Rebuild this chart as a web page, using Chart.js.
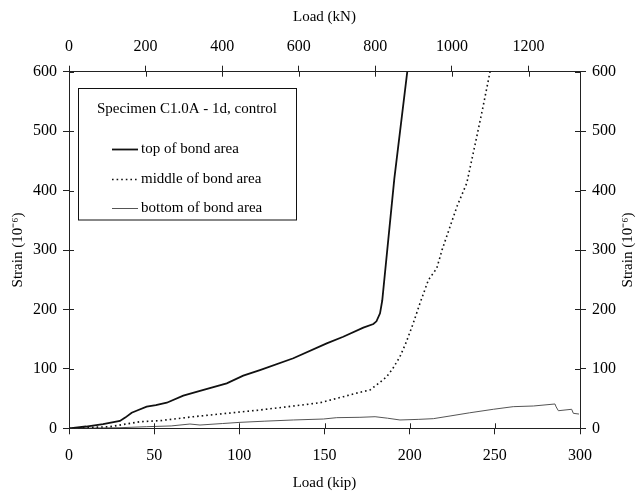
<!DOCTYPE html>
<html>
<head>
<meta charset="utf-8">
<script src="https://cdn.jsdelivr.net/npm/chart.js@4/dist/chart.umd.min.js"></script>
<style>
  html, body { margin: 0; padding: 0; background: #ffffff; }
  #wrap { width: 642px; height: 495px; }
</style>
</head>
<body>
<div id="wrap"><canvas id="c" width="642" height="495"></canvas></div>
<script>
// ---- data ----
const legendTitle = 'Specimen C1.0A - 1d, control';
const seriesNames = ['top of bond area', 'middle of bond area', 'bottom of bond area'];

const loadTop   = [0, 10, 20, 29.9, 33, 36.8, 40, 45.6, 51, 57.4, 67.1, 76.9, 92.6, 102.3, 112.1, 131.7, 151.3, 161, 172.8, 178.7, 180.5, 182.6, 183.9, 191, 198.6];
const strainTop = [0, 3, 7, 12.3, 18, 26.2, 30, 36.3, 39, 43, 54.9, 62.8, 75.7, 88.5, 98, 117.8, 143, 154, 169.3, 175.5, 180, 193.5, 215, 420, 600];

const loadMid   = [0, 12, 24.1, 33, 41.7, 53.4, 73, 92.6, 112.1, 131.7, 147.4, 161, 170, 176.7, 182, 186.5, 190, 194.3, 198, 202.1, 206, 211, 215.9, 219, 223.7, 228, 233.5, 239.4, 243, 247.2];
const strainMid = [0, 1.5, 2.7, 7, 11.1, 12.8, 19.5, 25.2, 30.8, 37.5, 43, 53.2, 60, 64.5, 76, 86.8, 100, 120.5, 145, 176.7, 210, 249.5, 269.2, 300, 339.2, 375, 412.3, 490.7, 540, 600];

const loadBot   = [0, 15, 29.9, 45.6, 60, 71, 76.9, 90, 100.4, 115, 131.7, 149.3, 157.2, 170.8, 179.7, 187, 194.3, 205, 213.9, 223.7, 235, 249.1, 260.8, 272.6, 285.3, 286, 287.3, 295.1, 296.1, 299.4];
const strainBot = [0, 0.5, 1, 2.7, 4, 7.2, 5.5, 8, 10, 12, 14, 15.6, 17.9, 18.5, 19.5, 17, 14, 15, 16.2, 20.7, 26, 32, 36.4, 37.5, 40.9, 36, 29.6, 32, 25.2, 24];

const kipTicks    = [0, 50, 100, 150, 200, 250, 300];
const kNTicks     = [0, 200, 400, 600, 800, 1000, 1200];
const strainTicks = [0, 100, 200, 300, 400, 500, 600];
const KN_PER_KIP = 4.448222;

const FONT = "'Liberation Serif', 'Times New Roman', serif";

function pts(xs, ys) { return xs.map((x, i) => ({ x: x, y: ys[i] })); }

function fixTicks(list) {
  return function (scale) { scale.ticks = list.map(v => ({ value: v })); };
}
const plainLabel = v => String(v);

const tickFont = { family: FONT, size: 16 };
const titleFont = { family: FONT, size: 15 };
const gridOpts = { drawOnChartArea: false, drawTicks: true, tickLength: 6, color: '#222', lineWidth: 1 };
const borderOpts = { display: true, color: '#222', width: 1 };

const extrasPlugin = {
  id: 'extras',
  afterDraw(chart) {
    const ctx = chart.ctx;
    const area = chart.chartArea;
    ctx.save();
    // inward halves of the crossing tick marks
    ctx.strokeStyle = '#222';
    ctx.lineWidth = 1;
    const inward = 5;
    const defs = [['x', 'bottom'], ['x2', 'top'], ['y', 'left'], ['y2', 'right']];
    defs.forEach(([id, side]) => {
      const s = chart.scales[id];
      s.ticks.forEach(t => {
        const p = Math.round(s.getPixelForValue(t.value)) + 0.5;
        ctx.beginPath();
        if (side === 'bottom') { ctx.moveTo(p, area.bottom); ctx.lineTo(p, area.bottom - inward); }
        if (side === 'top') { ctx.moveTo(p, area.top); ctx.lineTo(p, area.top + inward); }
        if (side === 'left') { ctx.moveTo(area.left, p); ctx.lineTo(area.left + inward, p); }
        if (side === 'right') { ctx.moveTo(area.right, p); ctx.lineTo(area.right - inward, p); }
        ctx.stroke();
      });
    });

    // right axis title (reads bottom to top, like the left one)
    ctx.fillStyle = '#000';
    ctx.font = "15px " + FONT;
    ctx.textAlign = 'center';
    ctx.textBaseline = 'middle';
    ctx.translate(628, (area.top + area.bottom) / 2);
    ctx.rotate(-Math.PI / 2);
    ctx.fillText('Strain (10\u207B\u2076)', 0, 0);
    ctx.restore();

    // legend box inside the plot
    ctx.save();
    const bx = 78.5, by = 88.5, bw = 218, bh = 131.5;
    ctx.fillStyle = '#fff';
    ctx.fillRect(bx, by, bw, bh);
    ctx.strokeStyle = '#111';
    ctx.lineWidth = 1;
    ctx.strokeRect(bx, by, bw, bh);
    ctx.fillStyle = '#000';
    ctx.font = "15px " + FONT;
    ctx.textBaseline = 'middle';
    ctx.textAlign = 'center';
    ctx.fillText(legendTitle, 187, 109);
    ctx.textAlign = 'left';
    const rows = [149, 179, 208];
    chart.data.datasets.forEach((ds, i) => {
      const y = rows[i] + 0.5;
      ctx.strokeStyle = ds.borderColor;
      ctx.lineWidth = ds.borderWidth;
      ctx.setLineDash(ds.borderDash || []);
      ctx.beginPath();
      ctx.moveTo(112, y);
      ctx.lineTo(138, y);
      ctx.stroke();
      ctx.setLineDash([]);
      ctx.fillText(ds.label, 141, rows[i]);
    });
    ctx.restore();
  }
};

new Chart(document.getElementById('c'), {
  type: 'line',
  data: {
    datasets: [
      { label: seriesNames[0], data: pts(loadTop, strainTop), borderColor: '#111', borderWidth: 1.8, pointRadius: 0, tension: 0, fill: false },
      { label: seriesNames[1], data: pts(loadMid, strainMid), borderColor: '#111', borderWidth: 1.6, borderDash: [1.6, 3], pointRadius: 0, tension: 0, fill: false },
      { label: seriesNames[2], data: pts(loadBot, strainBot), borderColor: '#555', borderWidth: 1, pointRadius: 0, tension: 0, fill: false }
    ]
  },
  options: {
    responsive: false,
    animation: false,
    layout: { padding: 0 },
    plugins: { legend: { display: false }, tooltip: { enabled: false } },
    scales: {
      x: {
        type: 'linear', position: 'bottom', min: 0, max: 300,
        afterBuildTicks: fixTicks(kipTicks),
        afterFit(s) { s.height = 66.7; },
        ticks: { font: tickFont, color: '#000', padding: 12, maxRotation: 0, callback: plainLabel },
        grid: gridOpts, border: borderOpts,
        title: { display: true, text: 'Load (kip)', font: titleFont, color: '#000', padding: { top: 0, bottom: 3 } }
      },
      x2: {
        type: 'linear', position: 'top', min: 0, max: 300 * KN_PER_KIP,
        afterBuildTicks: fixTicks(kNTicks),
        afterFit(s) { s.height = 71.7; },
        ticks: { font: tickFont, color: '#000', padding: 9, maxRotation: 0, callback: plainLabel },
        grid: gridOpts, border: borderOpts,
        title: { display: true, text: 'Load (kN)', font: titleFont, color: '#000', padding: { top: 8, bottom: 0 } }
      },
      y: {
        type: 'linear', position: 'left', min: 0, max: 600,
        afterBuildTicks: fixTicks(strainTicks),
        afterFit(s) { s.width = 69; },
        ticks: { font: tickFont, color: '#000', padding: 6, callback: plainLabel },
        grid: gridOpts, border: borderOpts,
        title: { display: true, text: 'Strain (10\u207B\u2076)', font: titleFont, color: '#000', padding: { top: 9, bottom: 0 } }
      },
      y2: {
        type: 'linear', position: 'right', min: 0, max: 600,
        afterBuildTicks: fixTicks(strainTicks),
        afterFit(s) { s.width = 62; },
        ticks: { font: tickFont, color: '#000', padding: 6, callback: plainLabel },
        grid: gridOpts, border: borderOpts,
        title: { display: false }
      }
    }
  },
  plugins: [extrasPlugin]
});
</script>
</body>
</html>
